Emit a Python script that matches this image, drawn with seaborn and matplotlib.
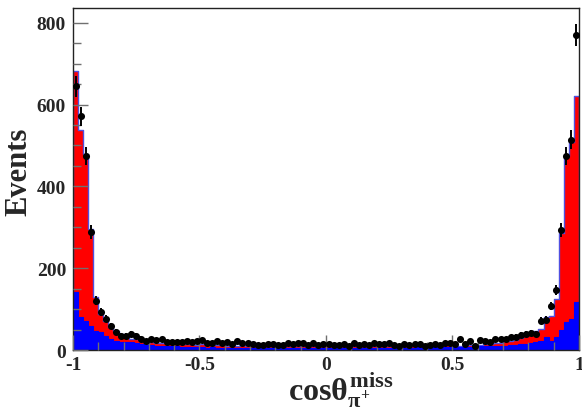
import matplotlib
matplotlib.use('Agg')
import matplotlib.pyplot as plt
import numpy as np
import pandas as pd
import seaborn as sns
from matplotlib.ticker import MultipleLocator

# 1. 데이터 (그림에서 읽은 값, 100 bins, -1 ~ 1)
bin_edges = list(np.round(np.linspace(-1, 1, 101), 4))
bin_centers = [0.5 * (a + b) for a, b in zip(bin_edges[:-1], bin_edges[1:])]

data_counts = [
    645, 571, 475, 288, 120, 94, 76, 58, 45, 35, 35, 39, 35, 28, 23, 27, 25, 27, 20, 19, 19, 20, 23,
    19, 22, 25, 18, 16, 21, 17, 19, 15, 22, 16, 18, 14, 12, 13, 15, 14, 12, 13, 16, 14, 17, 18, 13, 16, 12,
    14, 15, 13, 12, 14, 11, 16, 13, 15, 12, 17, 15, 14, 16, 12, 11, 14, 13, 15, 14, 10, 12, 15, 13, 17, 16,
    15, 27, 15, 23, 11, 25, 23, 19, 27, 27, 27, 31, 33, 37, 39, 42, 39, 72, 74, 108, 147, 294, 474, 514, 770,
]
total_mc = [
    683, 538, 480, 295, 130, 88, 72, 56, 47, 39, 35, 28, 27, 23, 14, 20, 18, 17, 16, 16, 15, 15, 14,
    14, 13, 15, 13, 12, 13, 12, 11, 12, 11, 12, 10, 11, 10, 11, 10, 10, 11, 9, 10, 10, 9, 10, 9, 10, 9,
    9, 10, 9, 10, 9, 9, 10, 9, 10, 10, 9, 10, 10, 11, 10, 11, 11, 10, 12, 11, 12, 12, 13, 12, 14, 14,
    11, 11, 12, 12, 13, 13, 15, 15, 16, 17, 21, 23, 24, 30, 34, 39, 47, 51, 80, 84, 125, 286, 475, 508, 622,
]
background = [
    143, 81, 70, 58, 47, 43, 35, 27, 23, 19, 19, 19, 18, 15, 13, 12, 11, 11, 10, 9, 9, 8, 8,
    8, 7, 7, 6, 7, 5, 6, 6, 5, 6, 4, 5, 6, 5, 4, 5, 5, 6, 4, 5, 5, 4, 5, 6, 4, 5,
    5, 4, 5, 6, 5, 4, 5, 5, 4, 6, 5, 5, 4, 5, 6, 5, 6, 5, 6, 7, 6, 6, 7, 6, 7, 7,
    7, 8, 8, 7, 8, 9, 9, 9, 10, 10, 11, 12, 13, 14, 15, 17, 19, 23, 33, 23, 33, 50, 68, 76, 117,
]

x_ticks = [-1, -0.5, 0, 0.5, 1]
x_tick_labels = ['-1', '-0.5', '0', '0.5', '1']
y_ticks = [0, 200, 400, 600, 800]
y_tick_labels = ['0', '200', '400', '600', '800']

df = pd.DataFrame({
    'center': bin_centers,
    'data': data_counts,
    'total': total_mc,
    'bkg': background,
})
df['err'] = np.sqrt(df['data'])

# 2. 스타일
sns.set_style('white')
plt.rcParams['font.family'] = ['Liberation Serif', 'DejaVu Serif']
plt.rcParams['font.weight'] = 'bold'
plt.rcParams['axes.unicode_minus'] = False
plt.rcParams['mathtext.fontset'] = 'custom'
plt.rcParams['mathtext.rm'] = 'Liberation Serif:bold'
plt.rcParams['mathtext.it'] = 'Liberation Serif:bold'
plt.rcParams['mathtext.bf'] = 'Liberation Serif:bold'

fig = plt.figure(figsize=(5.82, 4.10), dpi=100)
ax = fig.add_axes([0.1254, 0.1439, 0.8694, 0.8341])

# 3. 히스토그램 (총 MC: 빨강, 배경: 파랑)
sns.histplot(data=df, x='center', weights='total', bins=bin_edges, element='step',
             fill=True, color='red', alpha=1, edgecolor='#5050e0', linewidth=1, ax=ax)
sns.histplot(data=df, x='center', weights='bkg', bins=bin_edges, element='step',
             fill=True, color='blue', alpha=1, edgecolor='blue', linewidth=0.8, ax=ax)

# 데이터 점 + 오차 막대
ax.errorbar(df['center'], df['data'], yerr=df['err'], fmt='none',
            ecolor='black', elinewidth=1.4, capsize=0, zorder=4)
sns.scatterplot(data=df, x='center', y='data', color='black', s=26,
                linewidth=0, zorder=5, ax=ax)

# 4. 축 설정
ax.set_xlim(-1, 1)
ax.set_ylim(0, 836)
ax.set_xticks(x_ticks)
ax.set_xticklabels(x_tick_labels)
ax.set_yticks(y_ticks)
ax.set_yticklabels(y_tick_labels)
ax.xaxis.set_minor_locator(MultipleLocator(0.1))
ax.yaxis.set_minor_locator(MultipleLocator(50))
ax.tick_params(which='both', bottom=True, left=True, top=False, right=False)
ax.tick_params(which='major', direction='in', length=11, width=1, color='#707070',
               labelsize=14, pad=5)
ax.tick_params(which='minor', direction='in', length=5.5, width=1, color='#707070')
ax.tick_params(axis='x', pad=4)
for lab in ax.get_xticklabels() + ax.get_yticklabels():
    lab.set_fontweight('bold')

for spine in ax.spines.values():
    spine.set_color('#222222')
    spine.set_linewidth(1)
ax.set_axisbelow(False)

ax.set_ylabel('Events', fontsize=22, fontweight='bold')
ax.yaxis.set_label_coords(-0.078, 0.525)
ax.set_xlabel(r'$\mathrm{cos}\theta^{\mathrm{miss}}_{\pi^{+}}$', fontsize=23)
ax.xaxis.set_label_coords(0.53, -0.057)

fig.savefig('out.png', dpi=100)
